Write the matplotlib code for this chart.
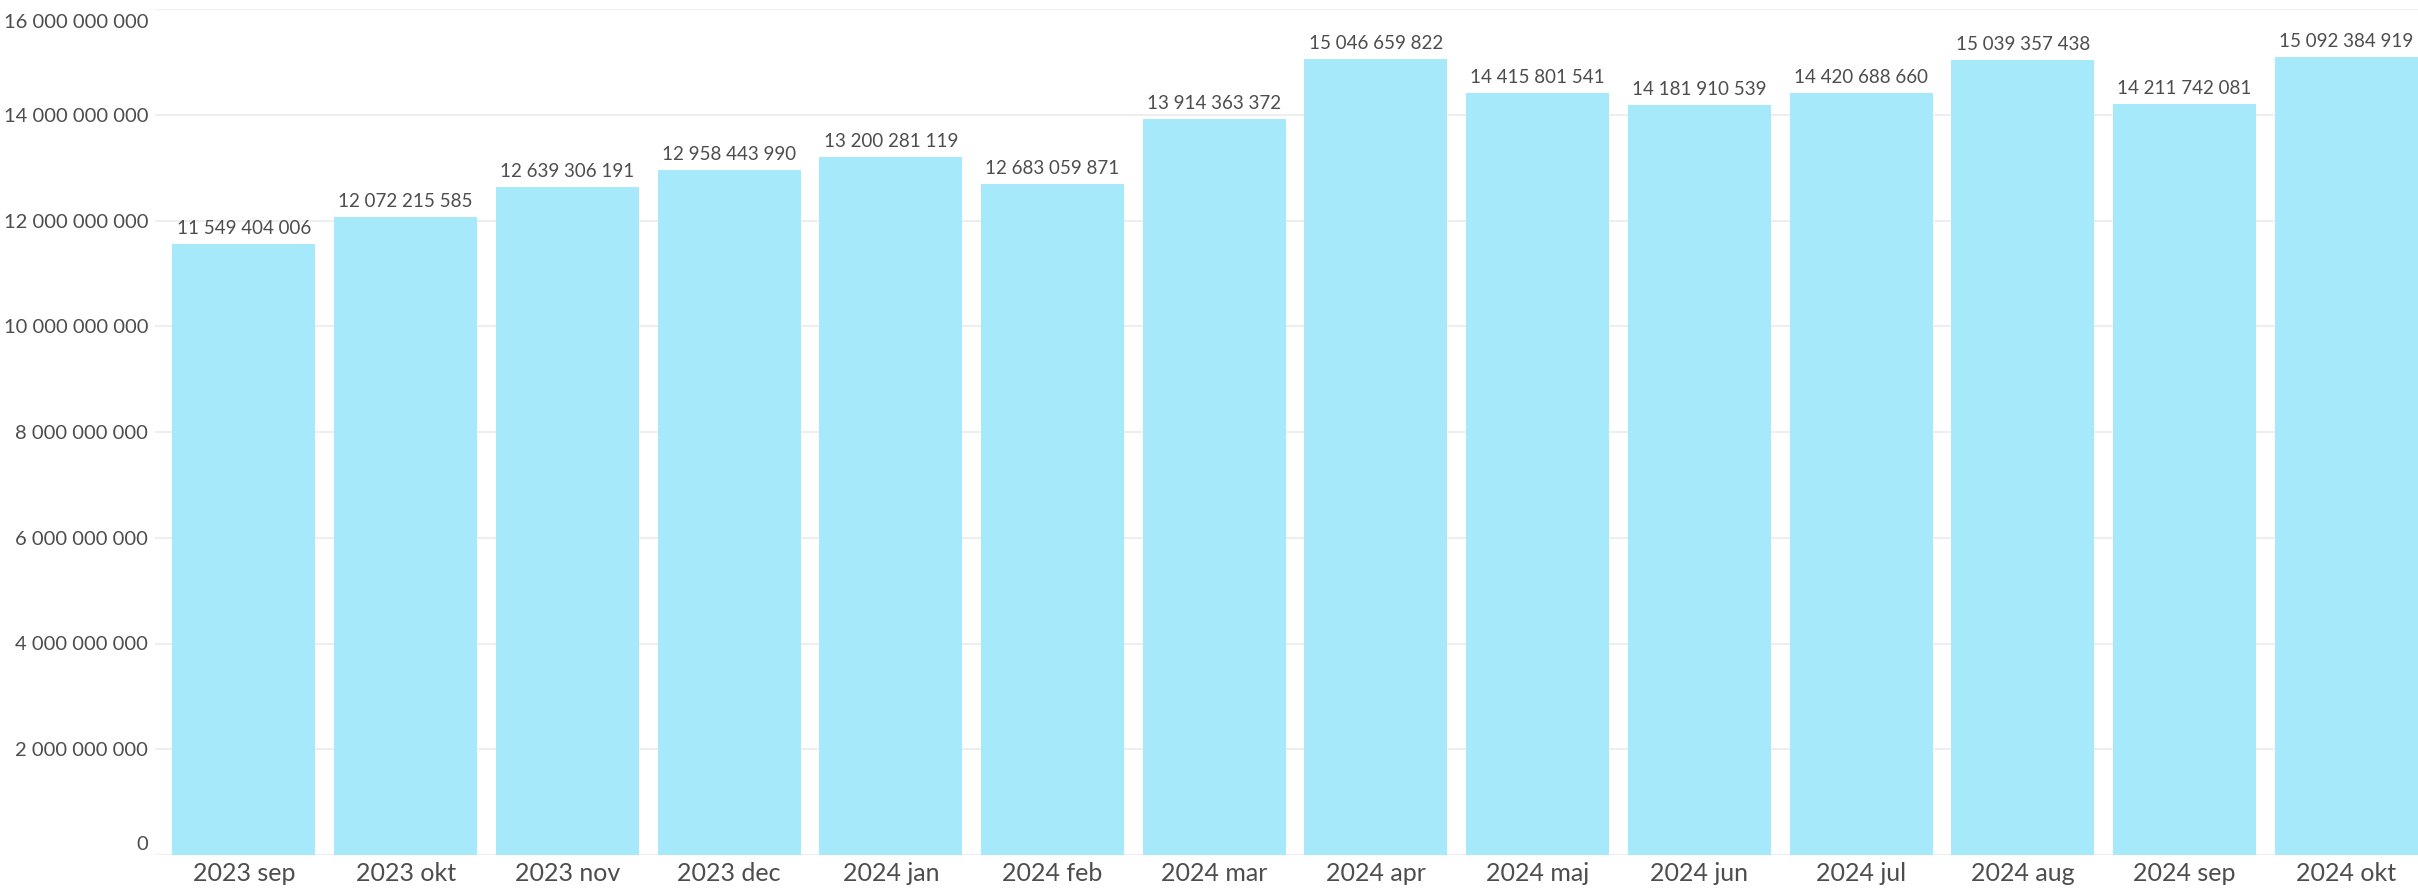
import matplotlib
matplotlib.use('Agg')
import matplotlib.pyplot as plt
from matplotlib.ticker import FuncFormatter
from matplotlib.transforms import ScaledTranslation

# ------------------------------------------------------------------
#  Data
# ------------------------------------------------------------------
months = ['2023 sep', '2023 okt', '2023 nov', '2023 dec', '2024 jan',
          '2024 feb', '2024 mar', '2024 apr', '2024 maj', '2024 jun',
          '2024 jul', '2024 aug', '2024 sep', '2024 okt']
values = [11549404006, 12072215585, 12639306191, 12958443990,
          13200281119, 12683059871, 13914363372, 15046659822,
          14415801541, 14181910539, 14420688660, 15039357438,
          14211742081, 15092384919]
y_ticks = [0, 2e9, 4e9, 6e9, 8e9, 10e9, 12e9, 14e9, 16e9]

BAR_COLOR = '#a6e9fb'
TEXT_COLOR = '#4d4d4d'


def fmt_space(v, pos=None):
    return f'{int(round(v)):,}'.replace(',', ' ')


plt.rcParams['font.family'] = ['Lato', 'DejaVu Sans']

fig = plt.figure(figsize=(24.18, 8.89), dpi=100)
ax = fig.add_axes([155 / 2418, 34 / 889, 1 - 155 / 2418, (855 - 9) / 889])

x = list(range(len(months)))
ax.bar(x, values, width=0.884, color=BAR_COLOR, zorder=2)

for xi, v in zip(x, values):
    ax.annotate(fmt_space(v), (xi, v), xytext=(0, 5),
                textcoords='offset points', ha='center', va='bottom',
                fontsize=13.5, color=TEXT_COLOR)

ax.set_xlim(-0.55, 13.444)
ax.set_ylim(0, 16e9)
ax.set_yticks(y_ticks)
ax.yaxis.set_major_formatter(FuncFormatter(fmt_space))
ax.set_xticks(x)
ax.set_xticklabels(months, fontsize=18, color=TEXT_COLOR)
ax.tick_params(axis='y', labelsize=14.5, labelcolor=TEXT_COLOR, length=0, pad=5)
ax.tick_params(axis='x', length=0, pad=5)
ax.grid(axis='y', color='#eeeeee', linewidth=1.5, zorder=0)
for s in ax.spines.values():
    s.set_visible(False)

# edge labels are nudged inwards so they fit inside the figure
ylabels = ax.get_yticklabels()
ylabels[0].set_transform(ylabels[0].get_transform()
                         + ScaledTranslation(0, 0.12, fig.dpi_scale_trans))
ylabels[-1].set_transform(ylabels[-1].get_transform()
                          + ScaledTranslation(0, -0.12, fig.dpi_scale_trans))

fig.savefig('out.png', dpi=100)
